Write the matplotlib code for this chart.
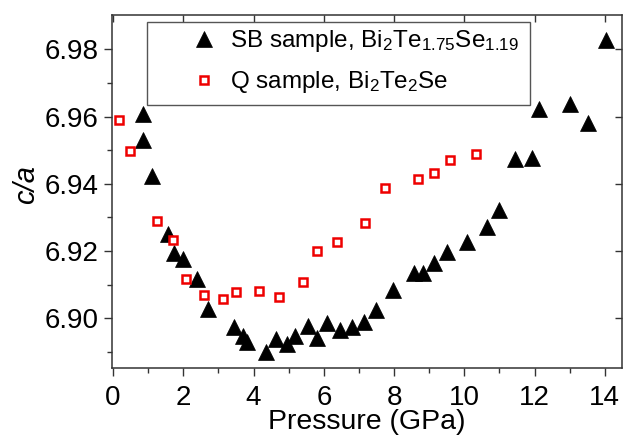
import matplotlib
matplotlib.use("Agg")
import matplotlib.pyplot as plt
from matplotlib.patches import Rectangle

plt.rcParams['font.family'] = ['Liberation Sans', 'DejaVu Sans']
plt.rcParams['mathtext.fontset'] = 'custom'
plt.rcParams['mathtext.rm'] = 'Liberation Sans'
plt.rcParams['mathtext.it'] = 'Liberation Sans:italic'

# SB sample, Bi2Te1.75Se1.19 (triangles)
sb_p = [0.85, 0.86, 1.12, 1.57, 1.74, 2.00, 2.40, 2.69, 3.44, 3.69, 3.80, 4.35,
        4.64, 4.94, 5.18, 5.54, 5.81, 6.09, 6.46, 6.80, 7.14, 7.49, 7.97, 8.56,
        8.81, 9.15, 9.50, 10.08, 10.65, 10.98, 11.44, 11.94, 12.13, 13.02, 13.51, 14.02]
sb_ca = [6.9608, 6.9530, 6.9423, 6.9251, 6.9194, 6.9176, 6.9116, 6.9028, 6.8974,
         6.8946, 6.8928, 6.8900, 6.8938, 6.8924, 6.8946, 6.8976, 6.8941, 6.8986,
         6.8966, 6.8974, 6.8988, 6.9025, 6.9083, 6.9134, 6.9134, 6.9164, 6.9196,
         6.9227, 6.9270, 6.9322, 6.9473, 6.9476, 6.9622, 6.9637, 6.9582, 6.9828]

# Q sample, Bi2Te2Se (open squares)
q_p = [0.18, 0.48, 1.24, 1.72, 2.08, 2.59, 3.12, 3.50, 4.15, 4.73, 5.40, 5.81,
       6.37, 7.17, 7.75, 8.69, 9.13, 9.60, 10.32]
q_ca = [6.9590, 6.9498, 6.9288, 6.9233, 6.9116, 6.9069, 6.9058, 6.9077, 6.9082,
        6.9064, 6.9108, 6.9201, 6.9228, 6.9283, 6.9387, 6.9413, 6.9431, 6.9470, 6.9489]

x_ticks = [0, 2, 4, 6, 8, 10, 12, 14]
y_ticks = [6.90, 6.92, 6.94, 6.96, 6.98]

fig = plt.figure(figsize=(6.26, 4.37), dpi=100)
ax = fig.add_axes([0.1784, 0.1579, 0.8147, 0.8078])

ax.plot(sb_p, sb_ca, linestyle='none', marker='^', ms=11, color='black',
        mec='black', mew=0.5, label=r'SB sample, Bi$_{\mathregular{2}}$Te$_{\mathregular{1.75}}$Se$_{\mathregular{1.19}}$')
ax.plot(q_p, q_ca, linestyle='none', marker='s', ms=6, mfc='white', mec='#ee0000',
        mew=1.8, label=r'Q sample, Bi$_{\mathregular{2}}$Te$_{\mathregular{2}}$Se')

ax.set_xlim(-0.04, 14.48)
ax.set_ylim(6.8852, 6.9902)
ax.set_xticks(x_ticks)
ax.set_xticks([1, 3, 5, 7, 9, 11, 13], minor=True)
ax.set_yticks(y_ticks)
ax.set_yticks([6.89, 6.91, 6.93, 6.95, 6.97], minor=True)
ax.set_xticklabels([str(v) for v in x_ticks])
ax.set_yticklabels(['%.2f' % v for v in y_ticks])

spine_col = '#333333'
for s in ax.spines.values():
    s.set_color(spine_col)
    s.set_linewidth(1.1)

ax.tick_params(which='major', direction='out', length=6, width=1.0, color=spine_col,
               labelsize=20)
ax.tick_params(axis='x', which='major', pad=6)
ax.tick_params(which='minor', direction='out', length=3.5, width=1.0, color=spine_col)

top = ax.secondary_xaxis('top')
top.set_xticks(x_ticks)
top.tick_params(direction='in', length=5, width=1.0, color=spine_col, labeltop=False)
top.spines['top'].set_visible(False)
right = ax.secondary_yaxis('right')
right.set_yticks(y_ticks)
right.tick_params(direction='in', length=5, width=1.0, color=spine_col, labelright=False)
right.spines['right'].set_visible(False)

ax.set_xlabel('Pressure (GPa)', fontsize=20.5, labelpad=-1)
ax.set_ylabel('c/a', fontsize=21, style='italic')
ax.yaxis.set_label_coords(-0.14, 0.52)

# legend frame and entries
ax.add_patch(Rectangle((0.069, 0.745), 0.751, 0.235, transform=ax.transAxes,
                       fill=False, edgecolor='#555555', linewidth=1.0, zorder=5))
ax.legend(loc='upper left', bbox_to_anchor=(0.158, 0.962), frameon=False,
          fontsize=17.5, borderpad=0, borderaxespad=0, handlelength=1.0,
          handletextpad=0.55, labelspacing=0.62)

fig.savefig('out.png', dpi=100)
